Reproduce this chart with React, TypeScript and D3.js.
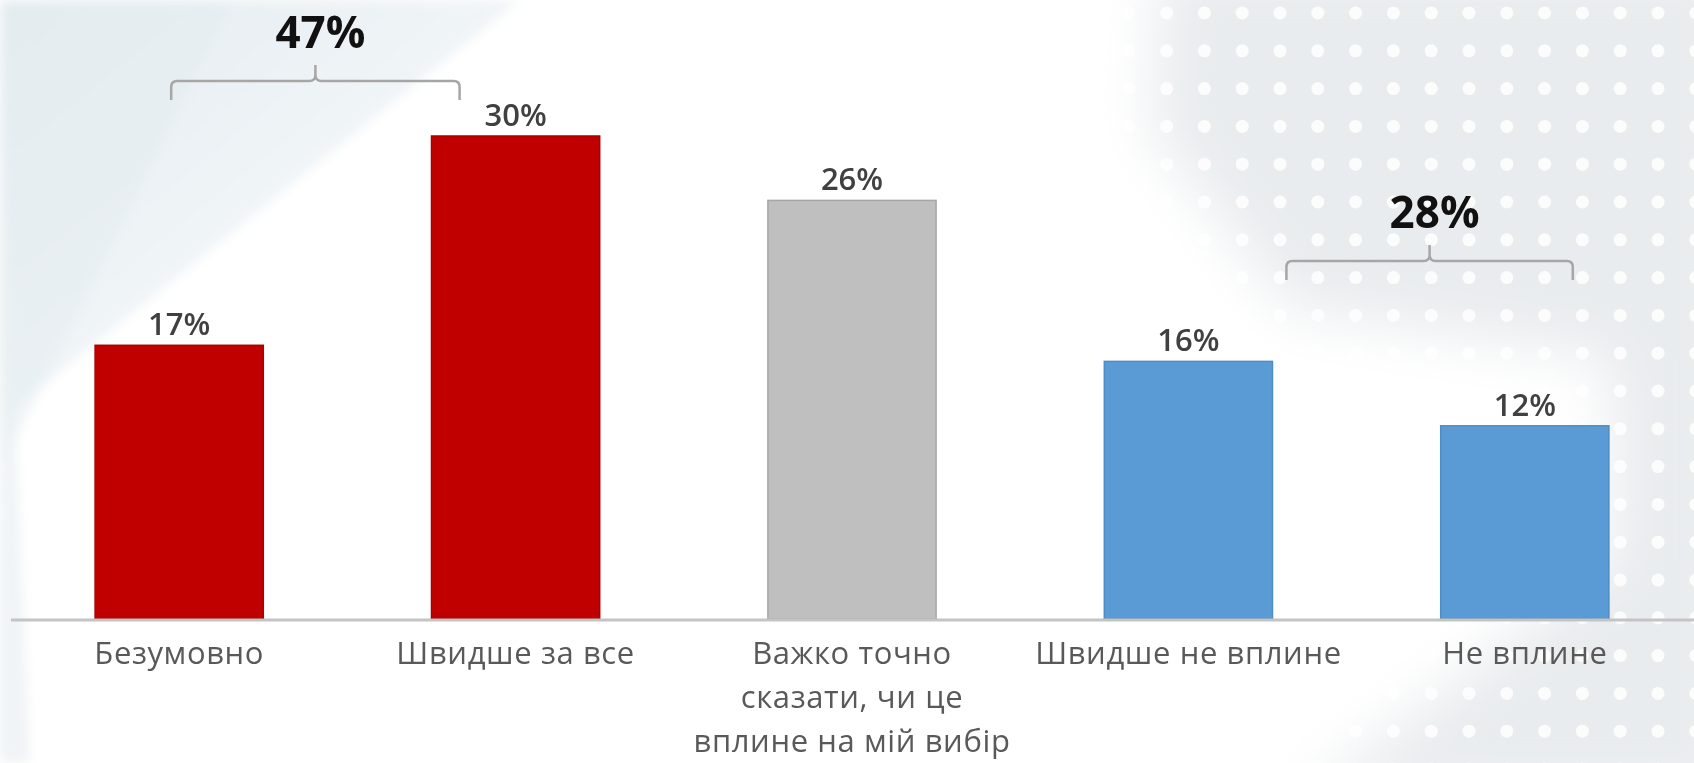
import React from "react";
import * as d3 from "d3";

const categories = [
  "Безумовно",
  "Швидше за все",
  "Важко точно|сказати, чи це|вплине на мій вибір",
  "Швидше не вплине",
  "Не вплине",
];
const values = [17, 30, 26, 16, 12];
const barColors = ["#C00000", "#C00000", "#BFBFBF", "#5B9BD5", "#5B9BD5"];
const barStrokes = ["#A80000", "#A80000", "#A6A6A6", "#4F8CC4", "#4F8CC4"];
const groupLabels = ["47%", "28%"];
const groupMembers = [
  [0, 1],
  [3, 4],
];

const W = 1694;
const H = 763;
const FONT = "'Open Sans', 'Noto Sans', sans-serif";

export default function App() {
  const x = d3
    .scaleBand<string>()
    .domain(categories)
    .range([11, 1693])
    .paddingInner(0.5)
    .paddingOuter(0.25);
  const y = d3.scaleLinear().domain([0, 30]).range([619, 136]);
  const bw = x.bandwidth();

  // decorative dot grid for the background
  const dots: { cx: number; cy: number }[] = [];
  for (let r = 0; r < 21; r++) {
    for (let c = 0; c < 17; c++) {
      dots.push({ cx: 1695.8 - c * 37.8, cy: 13 + r * 37.8 });
    }
  }

  // bracket geometry from band scale
  const brackets = groupMembers.map((m, i) => {
    const a = x(categories[m[0]])! + bw / 2;
    const b = x(categories[m[1]])! + bw / 2;
    const left = i === 0 ? a - 8 : a + 98;
    const right = i === 0 ? b - 56 : b + 48;
    const yy = i === 0 ? 81 : 261;
    return { left, right, yy, label: groupLabels[i], cx: (left + right) / 2 };
  });

  const bracePath = (L: number, R: number, Y: number) => {
    const C = (L + R) / 2;
    const r = 6;
    const D = 19;
    const T = Y - 16;
    return `M${L},${Y + D} V${Y + r} Q${L},${Y} ${L + r},${Y} H${C - r} Q${C},${Y} ${C},${Y - r} V${T} M${C},${Y - r} Q${C},${Y} ${C + r},${Y} H${R - r} Q${R},${Y} ${R},${Y + r} V${Y + D}`;
  };

  return (
    <svg
      width={W}
      height={H}
      style={{ position: "absolute", left: 0, top: 0 }}
      xmlns="http://www.w3.org/2000/svg"
    >
      <defs>
        <filter id="blurBig" x="-20%" y="-20%" width="140%" height="140%">
          <feGaussianBlur stdDeviation="28" />
        </filter>
        <filter id="blurSmall" x="-20%" y="-20%" width="140%" height="140%">
          <feGaussianBlur stdDeviation="6" />
        </filter>
        <linearGradient id="tl1" x1="0" y1="0" x2="1" y2="1">
          <stop offset="0" stopColor="#dfe8ee" />
          <stop offset="0.7" stopColor="#f4f7f9" />
          <stop offset="1" stopColor="#ffffff" stopOpacity="0" />
        </linearGradient>
      </defs>

      {/* background */}
      <rect x={0} y={0} width={W} height={H} fill="#ffffff" />
      <g filter="url(#blurSmall)">
        <polygon points="0,0 520,0 0,420" fill="url(#tl1)" opacity={0.85} />
        <polygon points="0,0 230,0 120,230 0,470" fill="#e4ecf1" opacity={0.55} />
        <polygon points="0,60 30,763 0,763" fill="#eaeff2" opacity={0.7} />
      </g>
      <g filter="url(#blurBig)">
        <polygon
          points="1160,-40 1740,-40 1740,800 1300,800 1610,560 1610,360 1290,310 1150,130"
          fill="#e9ecee"
        />
      </g>
      <g fill="#ffffff" opacity={0.85}>
        {dots.map((d, i) => (
          <circle key={i} cx={d.cx} cy={d.cy} r={6.5} />
        ))}
      </g>

      {/* bars */}
      {categories.map((c, i) => (
        <rect
          key={c}
          x={x(c)!}
          y={y(values[i])}
          width={bw}
          height={y(0) - y(values[i])}
          fill={barColors[i]}
          stroke={barStrokes[i]}
          strokeWidth={1.5}
        />
      ))}

      {/* axis line */}
      <line x1={11} x2={W} y1={y(0) + 1} y2={y(0) + 1} stroke="#c4c4c4" strokeWidth={3} />

      {/* value labels */}
      {categories.map((c, i) => (
        <text
          key={c}
          x={x(c)! + bw / 2}
          y={y(values[i]) - 10}
          textAnchor="middle"
          fontFamily={FONT}
          fontWeight={600}
          fontSize={31}
          fill="#404040"
        >
          {values[i]}%
        </text>
      ))}

      {/* category labels */}
      {categories.map((c) => (
        <text
          key={c}
          x={x(c)! + bw / 2}
          y={664}
          textAnchor="middle"
          fontFamily={FONT}
          fontSize={31}
          letterSpacing={0.6}
          fill="#595959"
        >
          {c.split("|").map((line, j) => (
            <tspan key={j} x={x(c)! + bw / 2} dy={j === 0 ? 0 : 44}>
              {line}
            </tspan>
          ))}
        </text>
      ))}

      {/* group brackets */}
      {brackets.map((b) => (
        <g key={b.label}>
          <path d={bracePath(b.left, b.right, b.yy)} fill="none" stroke="#a6a6a6" strokeWidth={2.5} />
          <text
            x={b.cx + 5}
            y={b.yy - 33}
            textAnchor="middle"
            fontFamily={FONT}
            fontWeight={700}
            fontSize={44}
            fill="#111111"
          >
            {b.label}
          </text>
        </g>
      ))}
    </svg>
  );
}
